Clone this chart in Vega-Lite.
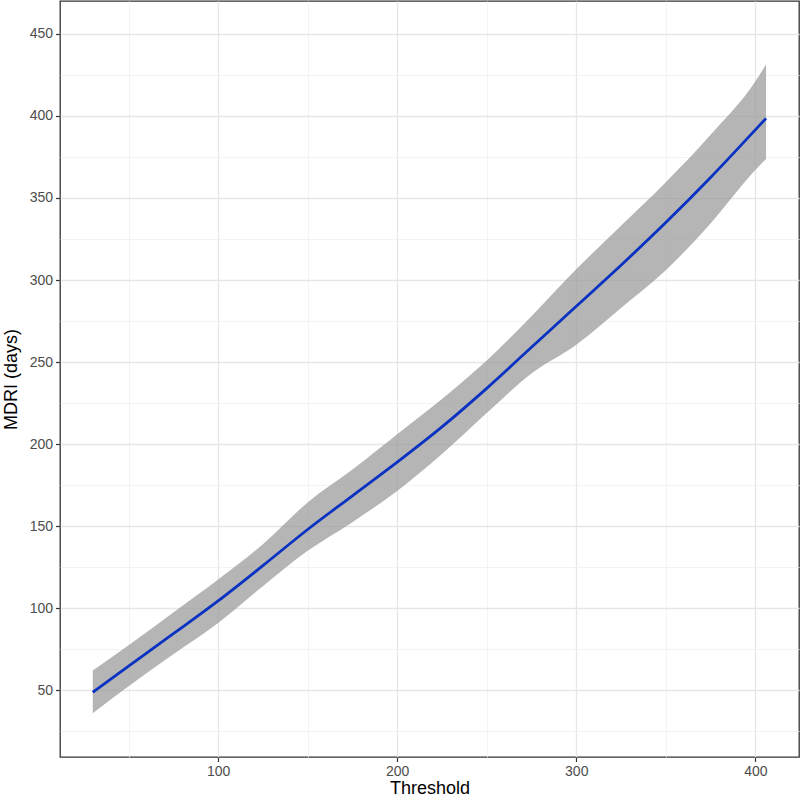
{
  "$schema": "https://vega.github.io/schema/vega-lite/v6.json",
  "autosize": {"type": "none"},
  "padding": {"left": 60, "top": 1, "right": 1, "bottom": 43},
  "width": 739,
  "height": 756,
  "background": "white",
  "config": {
    "font": "Liberation Sans",
    "view": {"stroke": "#333333", "strokeWidth": 1.3},
    "axis": {
      "domain": false,
      "labelFont": "Liberation Sans",
      "labelFontSize": 14,
      "labelColor": "#4D4D4D",
      "titleFont": "Liberation Sans",
      "titleFontSize": 18,
      "titleFontWeight": "normal",
      "titleColor": "#000000",
      "tickSize": 4.5,
      "tickWidth": 1.2,
      "labelPadding": 3
    }
  },
  "data": {
    "values": [
      {"threshold": 30, "fit": 48.8, "lo": 36.1, "hi": 62.1},
      {"threshold": 50, "fit": 64.8, "lo": 52.5, "hi": 77.5},
      {"threshold": 75, "fit": 84.5, "lo": 72, "hi": 97.5},
      {"threshold": 100, "fit": 104.5, "lo": 91, "hi": 117.5},
      {"threshold": 125, "fit": 126, "lo": 113.5, "hi": 139},
      {"threshold": 150, "fit": 148, "lo": 135, "hi": 164.5},
      {"threshold": 175, "fit": 168.5, "lo": 152.5, "hi": 184.5},
      {"threshold": 200, "fit": 189, "lo": 171.5, "hi": 206},
      {"threshold": 225, "fit": 210.5, "lo": 194, "hi": 227.5},
      {"threshold": 250, "fit": 234, "lo": 219, "hi": 251},
      {"threshold": 275, "fit": 259, "lo": 243, "hi": 278},
      {"threshold": 300, "fit": 284, "lo": 260.5, "hi": 306.5},
      {"threshold": 325, "fit": 309, "lo": 283, "hi": 333},
      {"threshold": 350, "fit": 335, "lo": 306, "hi": 359.5},
      {"threshold": 375, "fit": 362.5, "lo": 334.5, "hi": 388.5},
      {"threshold": 400, "fit": 391.5, "lo": 367, "hi": 421},
      {"threshold": 406, "fit": 398.5, "lo": 373.8, "hi": 431.3}
    ]
  },
  "encoding": {
    "x": {
      "field": "threshold",
      "type": "quantitative",
      "scale": {"domain": [11.7, 424.4], "nice": false, "zero": false},
      "axis": {
        "title": "Threshold",
        "values": [50, 100, 150, 200, 250, 300, 350, 400],
        "labelExpr": "datum.value % 100 === 0 ? datum.label : ''",
        "tickColor": {"condition": {"test": "datum.value % 100 === 0", "value": "#333333"}, "value": "transparent"},
        "gridColor": {"condition": {"test": "datum.value % 100 === 0", "value": "#E6E6E6"}, "value": "#F0F0F0"},
        "gridWidth": {"condition": {"test": "datum.value % 100 === 0", "value": 1.3}, "value": 0.8},
        "titlePadding": 1
      }
    }
  },
  "layer": [
    {
      "mark": {"type": "area", "color": "#999999", "opacity": 0.72, "interpolate": "monotone"},
      "encoding": {
        "y": {
          "field": "lo",
          "type": "quantitative",
          "scale": {"domain": [9.4, 470], "nice": false, "zero": false},
          "axis": {
            "title": "MDRI (days)",
            "values": [25, 50, 75, 100, 125, 150, 175, 200, 225, 250, 275, 300, 325, 350, 375, 400, 425, 450],
            "labelExpr": "datum.value % 50 === 0 ? datum.label : ''",
            "tickColor": {"condition": {"test": "datum.value % 50 === 0", "value": "#333333"}, "value": "transparent"},
            "gridColor": {"condition": {"test": "datum.value % 50 === 0", "value": "#E6E6E6"}, "value": "#F0F0F0"},
            "gridWidth": {"condition": {"test": "datum.value % 50 === 0", "value": 1.3}, "value": 0.8},
            "titlePadding": 9
          }
        },
        "y2": {"field": "hi"}
      }
    },
    {
      "mark": {"type": "line", "color": "#0A32C2", "strokeWidth": 2.8, "interpolate": "monotone"},
      "encoding": {
        "y": {"field": "fit", "type": "quantitative"}
      }
    }
  ]
}
